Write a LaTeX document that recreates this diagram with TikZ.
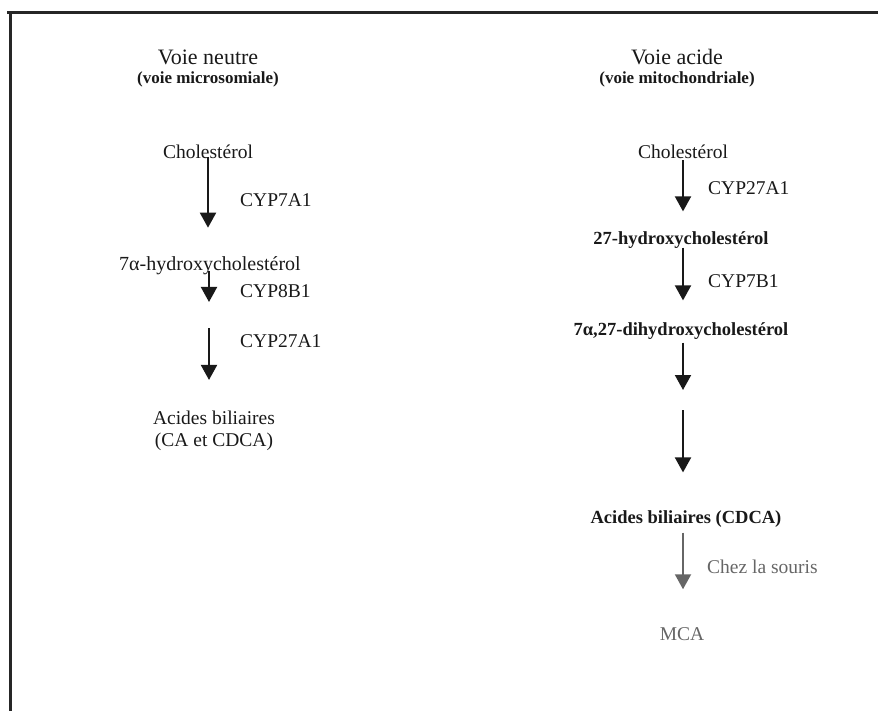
\documentclass[tikz,border=0pt]{standalone}
\usepackage{fontspec}
\setmainfont{Liberation Serif}
\usetikzlibrary{arrows.meta}

\begin{document}
\begin{tikzpicture}[
    x=1pt, y=-1pt,
    every node/.style={inner sep=0pt, text=black!90},
    titre/.style={font=\fontsize{22}{26}\selectfont},
    sous/.style={font=\bfseries\fontsize{17}{19}\selectfont},
    mol/.style={font=\fontsize{19.5}{22}\selectfont, align=center},
    molb/.style={font=\bfseries\fontsize{18.5}{22}\selectfont, align=center},
    enz/.style={font=\fontsize{19.5}{22}\selectfont, anchor=west},
    fleche/.style={-{Triangle[length=15pt, width=16pt]}, line width=2pt, draw=black!90},
    gris/.style={text=black!60},
  ]
  \useasboundingbox (0,0) rectangle (878,711);

  % ---- cadre ----
  \draw[line width=3pt, black!85] (7,13) -- (878,13);
  \draw[line width=3pt, black!85] (10,13) -- (10,711);

  % ---- Voie neutre ----
  \node[titre] (titreN) at (208,57) {Voie neutre};
  \node[sous] (sousN) at (208,79) {(voie microsomiale)};

  \node[mol] (cholN) at (208,152) {Cholestérol};
  \node[mol, font=\fontsize{20}{22}\selectfont] (hydN) at (210,266) {7α-hydroxycholestérol};
  \node[mol] (acN) at (214,431) {Acides biliaires\\(CA et CDCA)};

  \node[enz] (cyp7a1) at (240,200) {CYP7A1};
  \node[enz] (cyp8b1) at (240,291) {CYP8B1};
  \node[enz] (cyp27N) at (240,341) {CYP27A1};

  \coordinate (finN) at (209,302);
  \coordinate (debN) at (209,328);

  \draw[fleche] ([yshift=2pt]cholN.south) -- ([yshift=29pt]cholN.south |- hydN.north);
  \draw[fleche] ([yshift=4pt]hydN.south -| finN) -- (finN);
  \draw[fleche] (debN) -- ([yshift=31pt]debN |- acN.north);

  % ---- Voie acide ----
  \node[titre] (titreA) at (677,57) {Voie acide};
  \node[sous] (sousA) at (677,79) {(voie mitochondriale)};

  \node[mol] (cholA) at (683,152) {Cholestérol};
  \node[molb] (hydA) at (681,240) {27-hydroxycholestérol};
  \node[molb] (dihA) at (681,331) {7α,27-dihydroxycholestérol};
  \node[molb] (acA) at (686,519) {Acides biliaires (CDCA)};
  \node[mol, gris] (mca) at (682,634) {MCA};

  \node[enz] (cyp27A) at (708,188) {CYP27A1};
  \node[enz] (cyp7b1) at (708,281) {CYP7B1};
  \node[enz, gris] (souris) at (707,567) {Chez la souris};

  \coordinate (finA) at (683,390);
  \coordinate (debA) at (683,410);

  \draw[fleche] ([yshift=-1pt]cholA.south) -- ([yshift=20pt]cholA.south |- hydA.north);
  \draw[fleche] ([yshift=1pt]hydA.south -| cholA.south) -- ([yshift=22pt]cholA.south |- dihA.north);
  \draw[fleche] ([yshift=-3pt]dihA.south -| finA) -- (finA);
  \draw[fleche] (debA) -- ([yshift=38pt]debA |- acA.north);
  \draw[fleche, draw=black!60] ([yshift=-5pt]acA.south -| finA) -- ([yshift=38pt]finA |- mca.north);
\end{tikzpicture}
\end{document}
